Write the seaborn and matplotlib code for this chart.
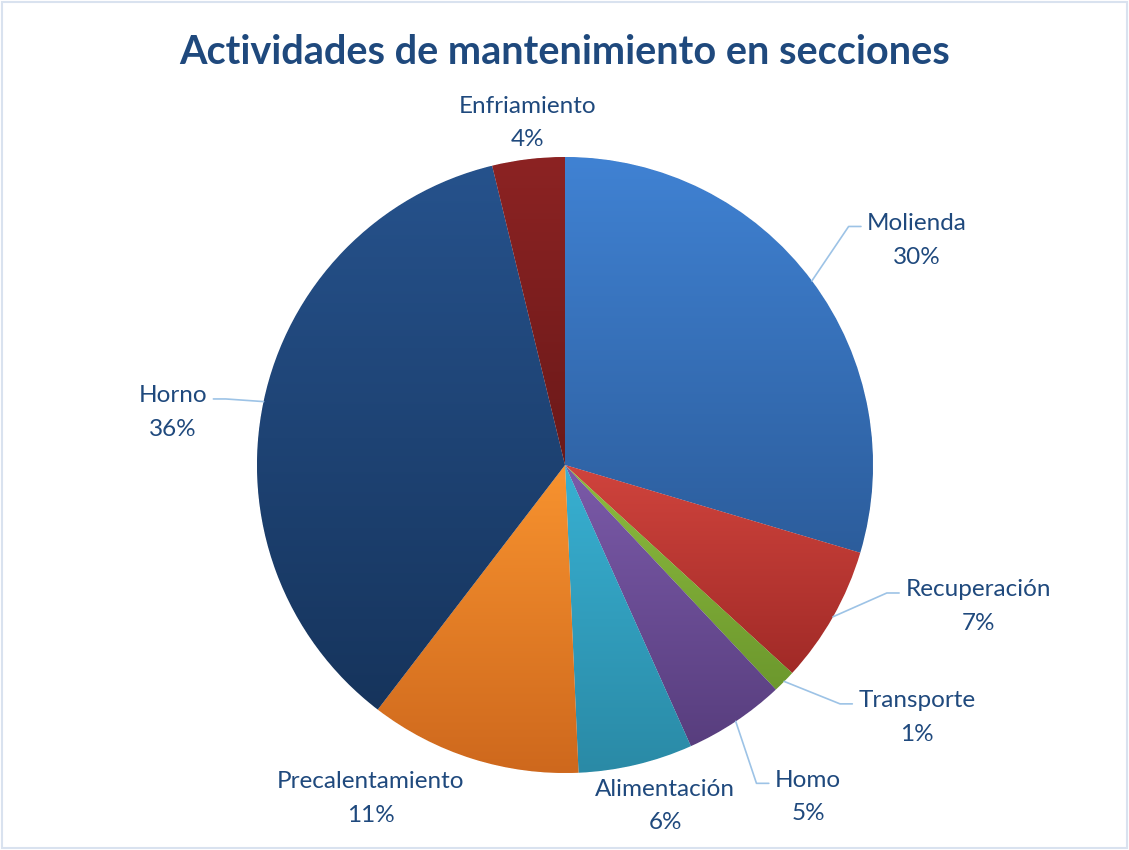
import numpy as np
import matplotlib
matplotlib.use("Agg")
import matplotlib.pyplot as plt
import seaborn as sns
from matplotlib.patches import Rectangle

# Data
secciones = ["Molienda", "Recuperación", "Transporte", "Homo",
             "Alimentación", "Precalentamiento", "Horno", "Enfriamiento"]
porcentajes = [29.6, 7.2, 1.2, 5.3, 6.0, 11.1, 35.8, 3.8]

# Gradient colours per slice (top, bottom)
colores_top = ["#4082D3", "#D0443D", "#8DBB3F", "#7B5AA9",
               "#38B0D2", "#F8932F", "#26528C", "#8C2323"]
colores_bottom = ["#2C5D9C", "#A12A27", "#6C982D", "#583E7E",
                  "#2A8AA6", "#CE681D", "#16345C", "#6B1919"]

# Label layout (centre of label, in units of the pie radius)
label_pos = [(1.143, 0.730), (1.341, -0.460), (1.143, -0.820), (0.789, -1.078),
             (0.325, -1.107), (-0.630, -1.082), (-1.273, 0.170), (-0.123, 1.110)]
con_linea = [True, True, True, True, False, False, True, False]

sns.set_theme(style="white")
plt.rcParams['font.family'] = ['Lato', 'DejaVu Sans']

texto = "#1F497D"
fig = plt.figure(figsize=(11.29, 8.5), dpi=100)
ax = fig.add_axes([0, 0, 1, 1])

wedges, _ = ax.pie(porcentajes, startangle=90, counterclock=False,
                   colors=colores_bottom, radius=1.0,
                   wedgeprops=dict(linewidth=0.6, edgecolor="white"))

# gradient fill clipped to each wedge
for w, c0, c1 in zip(wedges, colores_top, colores_bottom):
    v = w.get_path().vertices
    x0, x1 = v[:, 0].min(), v[:, 0].max()
    y0, y1 = v[:, 1].min(), v[:, 1].max()
    grad = np.array(sns.blend_palette([c1, c0], n_colors=256))[:, None, :]
    im = ax.imshow(grad, extent=(x0, x1, y0, y1), origin="lower",
                   aspect="auto", interpolation="bilinear", zorder=w.get_zorder())
    im.set_clip_path(w)

ax.set_xlim(-565 / 308, (1129 - 565) / 308)
ax.set_ylim((465 - 850) / 308, 465 / 308)
ax.set_aspect("auto")
ax.axis("off")

total = sum(porcentajes)
textos = []
for nombre, val, (lx, ly) in zip(secciones, porcentajes, label_pos):
    t = ax.text(lx, ly, f"{nombre}\n{val / total * 100:.0f}%", ha="center", va="center",
                fontsize=17.5, color=texto, linespacing=1.75)
    textos.append(t)

fig.canvas.draw()
renderer = fig.canvas.get_renderer()
inv = ax.transData.inverted()
linea = "#9DC3E6"
for w, t, flag in zip(wedges, textos, con_linea):
    if not flag:
        continue
    ang = np.deg2rad((w.theta1 + w.theta2) / 2)
    sx, sy = np.cos(ang), np.sin(ang)
    bb = t.get_window_extent(renderer)
    (bx0, by0), (bx1, by1) = inv.transform([[bb.x0, bb.y0], [bb.x1, bb.y1]])
    ytop = by1 - (by1 - by0) * 0.25
    if sx > 0:
        ex = bx0 - 0.02
        pts = [(sx, sy), (ex - 0.04, ytop), (ex, ytop)]
    else:
        ex = bx1 + 0.02
        pts = [(sx, sy), (ex + 0.04, ytop), (ex, ytop)]
    xs, ys = zip(*pts)
    ax.plot(xs, ys, color=linea, linewidth=1.2, zorder=1)

fig.text(0.5005, 1 - 53 / 850, "Actividades de mantenimiento en secciones",
         ha="center", va="center", fontsize=28.5, fontweight="bold", color=texto)

fig.patches.append(Rectangle((0.002, 0.002), 0.996, 0.996, transform=fig.transFigure,
                             fill=False, edgecolor="#D9E2EF", linewidth=1.5))

fig.savefig("out.png", dpi=100)
